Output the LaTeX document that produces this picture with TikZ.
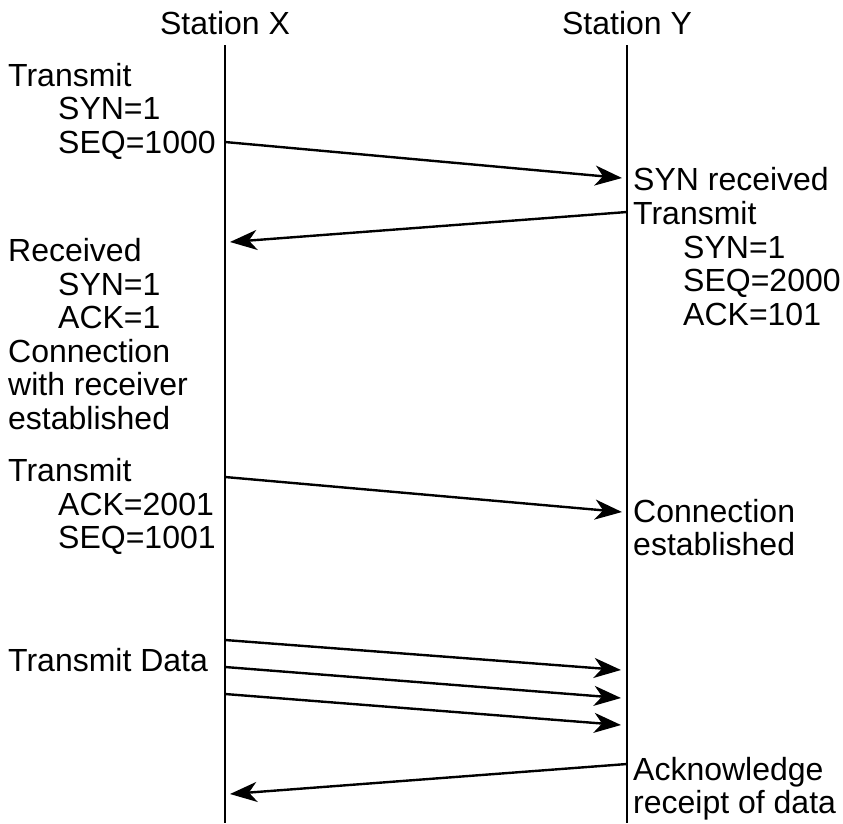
\documentclass[tikz,border=0pt]{standalone}
\usepackage{fontspec}
\setmainfont{Liberation Sans}
\usetikzlibrary{arrows.meta}
\begin{document}
\begin{tikzpicture}[x=1pt,y=-1pt,
  txt/.style={anchor=base west,inner sep=0pt,font=\fontsize{32}{34}\selectfont},
  life/.style={line width=2pt},
  msg/.style={line width=2.4pt,-{Stealth[length=27pt,width=20pt,inset=8pt]}}]
\useasboundingbox (0,0) rectangle (843,823);
% headers
\node[txt,anchor=base] (hx) at (225,34) {Station X};
\node[txt,anchor=base] (hy) at (627,34) {Station Y};
% lifelines
\coordinate (xt) at (225,45); \coordinate (xb) at (225,823);
\coordinate (yt) at (627,45); \coordinate (yb) at (627,823);
\draw[life] (xt) -- (xb);
\draw[life] (yt) -- (yb);
% left texts
\node[txt] (l1) at (8,86) {Transmit};
\node[txt] (l2) at (58,119) {SYN=1};
\node[txt] (l3) at (58,153) {SEQ=1000};
\node[txt] (l4) at (8,261) {Received};
\node[txt] (l5) at (58,295) {SYN=1};
\node[txt] (l6) at (58,328) {ACK=1};
\node[txt] (l7) at (8,362) {Connection};
\node[txt] (l8) at (8,395) {with receiver};
\node[txt] (l9) at (8,429) {established};
\node[txt] (l10) at (8,481) {Transmit};
\node[txt] (l11) at (58,515) {ACK=2001};
\node[txt] (l12) at (58,548) {SEQ=1001};
\node[txt] (l13) at (8,671) {Transmit Data};
% right texts
\node[txt] (r1) at (633,190) {SYN received};
\node[txt] (r2) at (633,224) {Transmit};
\node[txt] (r3) at (683,258) {SYN=1};
\node[txt] (r4) at (683,291) {SEQ=2000};
\node[txt] (r5) at (683,325) {ACK=101};
\node[txt] (r6) at (633,522) {Connection};
\node[txt] (r7) at (633,555) {established};
\node[txt] (r8) at (633,780) {Acknowledge};
\node[txt] (r9) at (633,813) {receipt of data};
% message endpoints
\coordinate (a1s) at (225,142); \coordinate (a1e) at (622,178);
\coordinate (a2s) at (627,212); \coordinate (a2e) at (230,242);
\coordinate (a3s) at (225,477); \coordinate (a3e) at (622,512);
\coordinate (d1s) at (225,640); \coordinate (d1e) at (621,670);
\coordinate (d2s) at (225,667); \coordinate (d2e) at (621,698);
\coordinate (d3s) at (225,694); \coordinate (d3e) at (621,725);
\coordinate (a4s) at (627,764); \coordinate (a4e) at (230,794);
\draw[msg] (a1s) -- (a1e);
\draw[msg] (a2s) -- (a2e);
\draw[msg] (a3s) -- (a3e);
\draw[msg] (d1s) -- (d1e);
\draw[msg] (d2s) -- (d2e);
\draw[msg] (d3s) -- (d3e);
\draw[msg] (a4s) -- (a4e);
\end{tikzpicture}
\end{document}
